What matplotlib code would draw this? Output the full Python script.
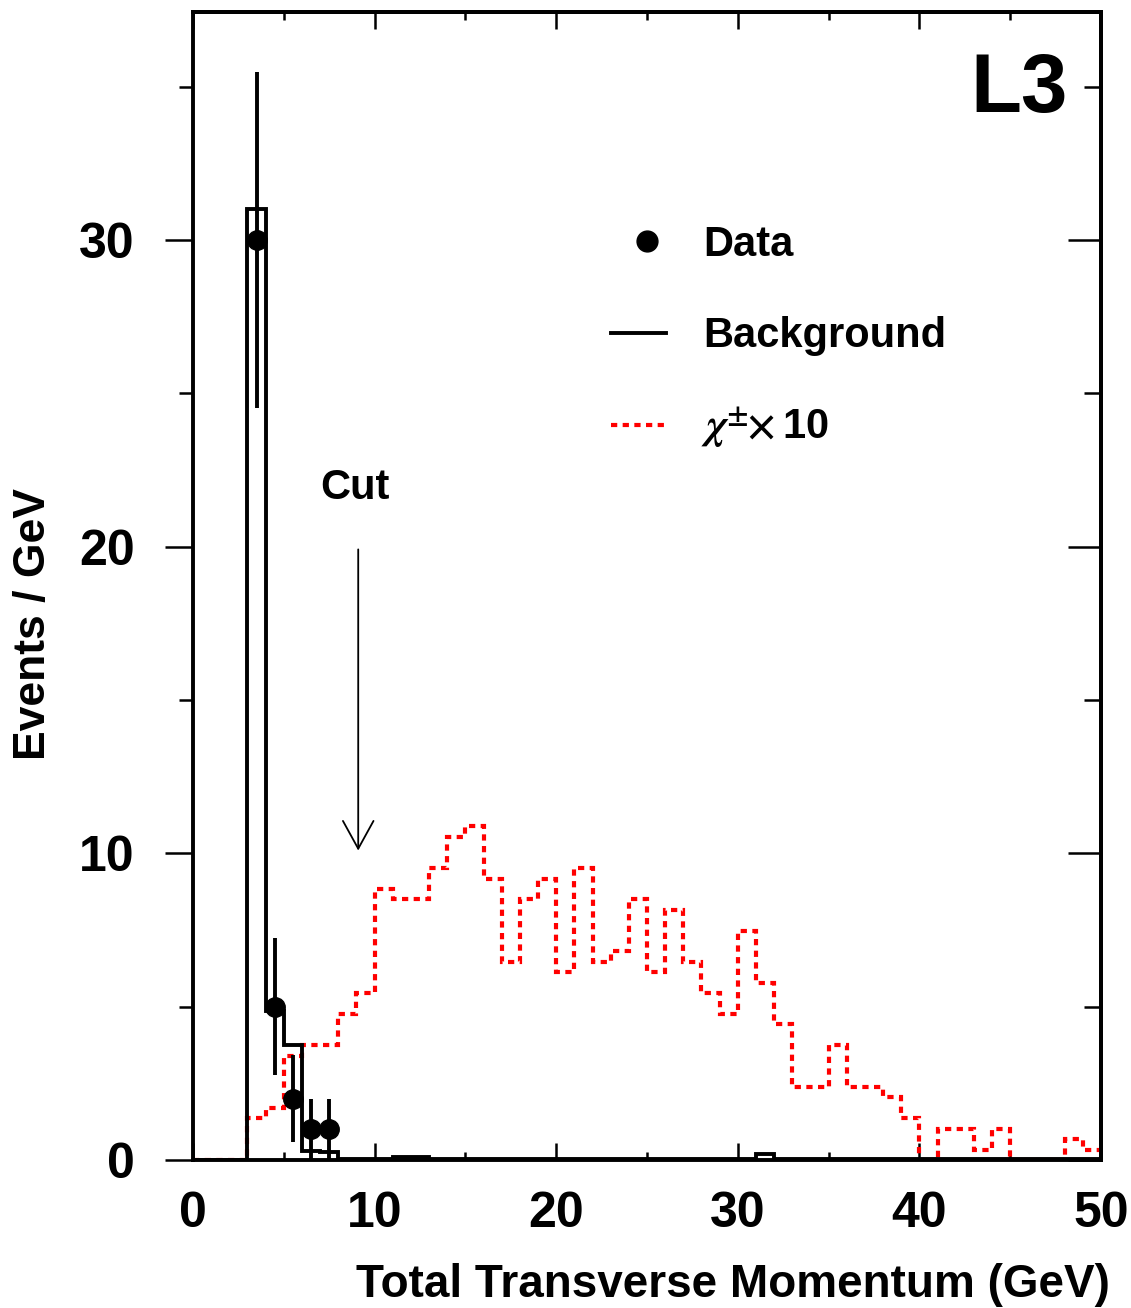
import numpy as np
import matplotlib
matplotlib.use("Agg")
import matplotlib.pyplot as plt

plt.rcParams['font.family'] = ['Liberation Sans', 'DejaVu Sans']
plt.rcParams['font.weight'] = 'bold'
plt.rcParams['axes.labelweight'] = 'bold'
plt.rcParams['mathtext.fontset'] = 'stix'

# bordi dei bin: 1 GeV da 0 a 50
bordi = np.arange(0, 51, 1)

# fondo (Background), eventi / GeV per bin
fondo = [0, 0, 0, 31.0, 4.85, 3.75, 0.30, 0.25, 0.04, 0.03,
         0.03, 0.10, 0.10, 0.03, 0.02, 0.02, 0.02, 0.02, 0.02, 0.02,
         0.02, 0.03, 0.02, 0.02, 0.02, 0.03, 0.02, 0.03, 0.02, 0.02,
         0.02, 0.20, 0.02, 0.02, 0.02, 0.03, 0.02, 0.02, 0.02, 0.02,
         0.02, 0.02, 0.02, 0.02, 0.02, 0.02, 0.02, 0.02, 0.02, 0.02]

# segnale chi+- x 10
segnale = [0, 0, 0, 1.36, 1.70, 3.40, 3.74, 3.74, 4.76, 5.44,
           8.84, 8.50, 8.50, 9.52, 10.54, 10.88, 9.18, 6.46, 8.50, 9.18,
           6.12, 9.52, 6.46, 6.80, 8.50, 6.12, 8.16, 6.46, 5.44, 4.76,
           7.48, 5.78, 4.42, 2.38, 2.38, 3.74, 2.38, 2.38, 2.04, 1.36,
           0, 1.02, 1.02, 0.34, 1.02, 0, 0, 0, 0.68, 0.34]

# dati osservati
x_dati = [3.5, 4.5, 5.5, 6.5, 7.5]
y_dati = [30, 5, 2, 1, 1]
err_dati = [5.48, 2.24, 1.41, 1.0, 1.0]

taglio = 9.1

tratteggio = (0, (1.5, 1.3))

fig = plt.figure(figsize=(11.31, 13.08), dpi=100)
ax = fig.add_axes([0.1706, 0.1131, 0.8029, 0.8777])

ax.stairs(segnale, bordi, baseline=None, color='red', lw=3.0,
          linestyle=tratteggio, zorder=2)
ax.stairs(fondo, bordi, baseline=None, color='black', lw=2.8, zorder=3)
ax.errorbar(x_dati, y_dati, yerr=err_dati, fmt='o', color='black',
            ms=14, elinewidth=2.8, capsize=0, zorder=4)

ax.annotate('', xy=(taglio, 10.0), xytext=(taglio, 20.0),
            arrowprops=dict(arrowstyle='->,head_length=1.0,head_width=0.55',
                            mutation_scale=20, lw=1.3, color='black'))
ax.text(8.9, 21.9, 'Cut', fontsize=30, ha='center', va='center')

ax.set_xlim(0, 50)
ax.set_ylim(0, 37.43)

for s in ax.spines.values():
    s.set_linewidth(2.8)

ax.set_xticks(np.arange(0, 51, 10))
ax.set_xticks(np.arange(5, 50, 10), minor=True)
ax.set_yticks([0, 10, 20, 30])
ax.set_yticks([5, 15, 25, 35], minor=True)
ax.tick_params(axis='x', which='major', direction='in', length=12, width=1.8,
               labelsize=36, pad=22)
ax.tick_params(axis='x', which='minor', direction='in', length=6, width=1.8)
ax.tick_params(axis='y', which='major', direction='out', length=20, width=1.8,
               labelsize=36, pad=22)
ax.tick_params(axis='y', which='minor', direction='out', length=10, width=1.8)

destra = ax.secondary_yaxis('right')
destra.set_yticks([0, 10, 20, 30])
destra.set_yticks([5, 15, 25, 35], minor=True)
destra.tick_params(which='major', direction='in', length=24, width=1.8, labelright=False)
destra.tick_params(which='minor', direction='in', length=12, width=1.8)
destra.spines['right'].set_linewidth(2.8)

sopra = ax.secondary_xaxis('top')
sopra.set_xticks(np.arange(0, 51, 10))
sopra.set_xticks(np.arange(5, 50, 10), minor=True)
sopra.tick_params(which='major', direction='in', length=12, width=1.8, labeltop=False)
sopra.tick_params(which='minor', direction='in', length=6, width=1.8)
sopra.spines['top'].set_linewidth(2.8)

ax.set_xlabel('Total Transverse Momentum (GeV)', fontsize=33, ha='center', va='center')
ax.xaxis.set_label_coords(0.595, -0.109)
ax.set_ylabel('Events / GeV', fontsize=32, ha='center', va='center')
ax.yaxis.set_label_coords(-0.176, 0.467)

ax.text(0.9637, 0.932, 'L3', fontsize=60, ha='right', va='center', transform=ax.transAxes)

# legenda disegnata a mano
tr = ax.transAxes
ax.plot([0.500], [0.8005], 'o', color='black', ms=15, transform=tr, clip_on=False)
ax.text(0.5617, 0.797, 'Data', fontsize=30, va='center', transform=tr)
ax.plot([0.460, 0.521], [0.7204, 0.7204], color='black', lw=2.8, transform=tr)
ax.text(0.5617, 0.718, 'Background', fontsize=30, va='center', transform=tr)
ax.plot([0.460, 0.521], [0.640, 0.640], color='red', lw=3.0,
        linestyle=tratteggio, transform=tr)
ax.text(0.5595, 0.638, r'$\chi^{\pm}\!\!\times$10', fontsize=30, va='center', transform=tr)

fig.savefig('out.png', dpi=100)
